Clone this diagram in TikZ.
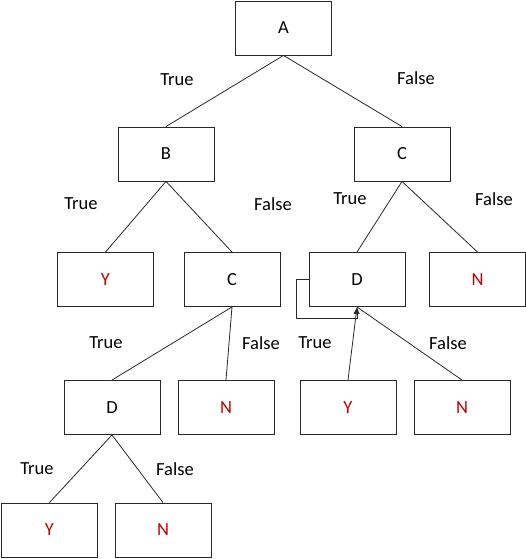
\documentclass[tikz,border=0pt]{standalone}
\usepackage{fontspec}
\setmainfont{Carlito}
\usetikzlibrary{positioning,arrows.meta}
\definecolor{leafcolor}{RGB}{192,0,0}
\definecolor{linecolor}{RGB}{40,40,40}

\begin{document}
\begin{tikzpicture}[
    x=1pt, y=-1pt,
    box/.style={rectangle, draw=linecolor, line width=0.9pt, minimum width=96pt, minimum height=54pt, font=\fontsize{18.5}{22}\selectfont},
    leaf/.style={box, text=leafcolor},
    edge/.style={draw=linecolor, line width=0.8pt},
    arrow/.style={-{Latex[length=7pt,width=5.5pt]}, edge},
    lbl/.style={font=\fontsize{18.5}{22}\selectfont, inner sep=0pt}
]
\useasboundingbox (0,0) rectangle (526,559);

% ===== ROOT =====
\node[box] (a) at (283.5,28) {A};

% ===== LEVEL 1 =====
\node[box] (b) at (166,154) {B};
\node[box] (c1) at (402,154) {C};

% ===== LEVEL 2 =====
\node[leaf] (y1) at (105.5,279.5) {Y};
\node[box] (c2) at (232,279.5) {C};
\node[box] (d1) at (357,279.5) {D};
\node[leaf] (n1) at (477.5,279.5) {N};

% ===== LEVEL 3 =====
\node[box] (d2) at (112,407.5) {D};
\node[leaf] (n2) at (226,407.5) {N};
\node[leaf] (y2) at (348,407.5) {Y};
\node[leaf] (n3) at (462,407.5) {N};

% ===== LEVEL 4 =====
\node[leaf] (y3) at (49.5,530) {Y};
\node[leaf] (n4) at (163,530) {N};

% ===== EDGES =====
\draw[edge] (a.south) -- (b.north);
\draw[edge] (a.south) -- (c1.north);
\draw[edge] (b.south) -- (y1.north);
\draw[edge] (b.south) -- (c2.north);
\draw[edge] (c1.south) -- (d1.north);
\draw[edge] (c1.south) -- (n1.north);
\draw[edge] (c2.south) -- (d2.north);
\draw[edge] (c2.south) -- (n2.north);
\draw[arrow] (y2.north) -- (d1.south);
\draw[edge] (n3.north) -- (d1.south);
\draw[arrow] (d1.west) -- ++(-12,0) -- ++(0,39) -| (d1.south);
\draw[edge] (d2.south) -- (y3.north);
\draw[edge] (d2.south) -- (n4.north);

% ===== BRANCH LABELS =====
\node[lbl] (t1) at (177,80) {True};
\node[lbl] (f1) at (416,78) {False};
\node[lbl] (t2) at (81,204) {True};
\node[lbl] (f2) at (273,204) {False};
\node[lbl] (t3) at (350,199) {True};
\node[lbl] (f3) at (494,199) {False};
\node[lbl] (t4) at (106,343) {True};
\node[lbl] (f4) at (261,343) {False};
\node[lbl] (t5) at (315,343) {True};
\node[lbl] (f5) at (448,343) {False};
\node[lbl] (t6) at (37,469) {True};
\node[lbl] (f6) at (175,469) {False};

\end{tikzpicture}
\end{document}
